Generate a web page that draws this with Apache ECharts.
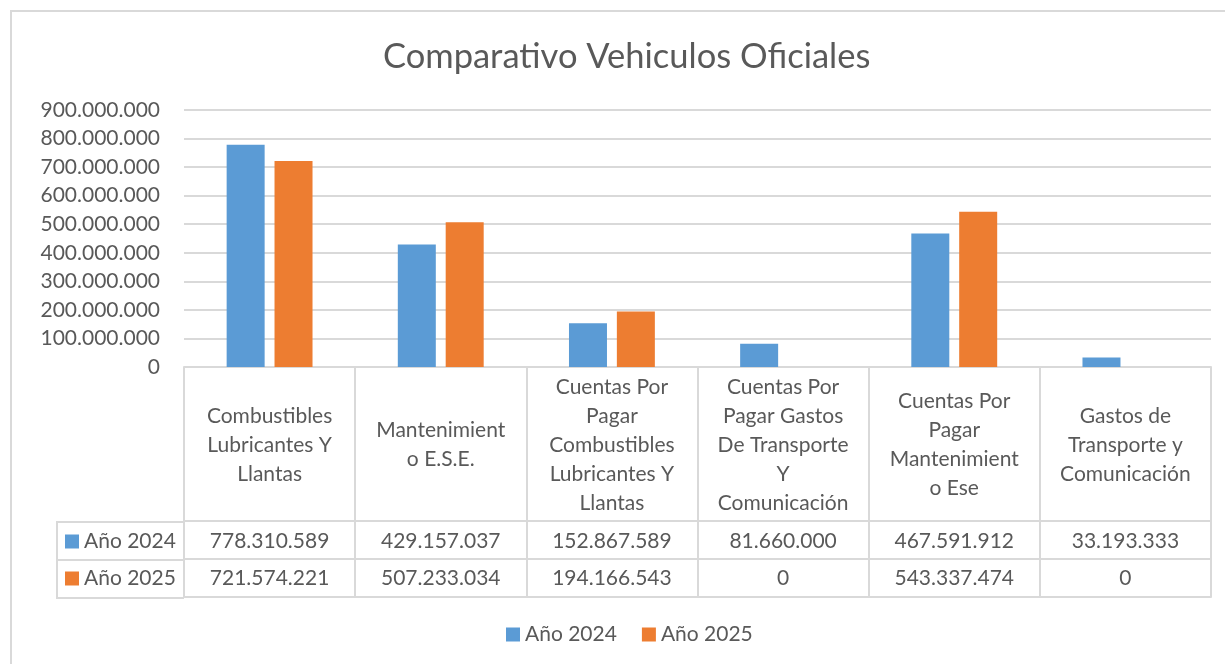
<!DOCTYPE html>
<html>
<head>
<meta charset="utf-8">
<script src="https://cdn.jsdelivr.net/npm/echarts@6/dist/echarts.min.js"></script>
<style>
html,body{margin:0;padding:0;background:#fff;}
#chart{width:1225px;height:664px;}
</style>
</head>
<body>
<div id="chart"></div>
<script>
const chartTitle = 'Comparativo Vehiculos Oficiales';
const categories = [
  'Combustibles\nLubricantes Y\nLlantas',
  'Mantenimient\no E.S.E.',
  'Cuentas Por\nPagar\nCombustibles\nLubricantes Y\nLlantas',
  'Cuentas Por\nPagar Gastos\nDe Transporte\nY\nComunicación',
  'Cuentas Por\nPagar\nMantenimient\no Ese',
  'Gastos de\nTransporte y\nComunicación'
];
const seriesNames = ['Año 2024', 'Año 2025'];
const values2024 = [778310589, 429157037, 152867589, 81660000, 467591912, 33193333];
const values2025 = [721574221, 507233034, 194166543, 0, 543337474, 0];
const yMin = 0, yMax = 900000000, yInterval = 100000000;

const FONT = 'Lato';
const TXT = '#595959';
const LINE = '#d9d9d9';
const fmt = v => String(v).replace(/\B(?=(\d{3})+(?!\d))/g, '.');

const chart = echarts.init(document.getElementById('chart'));
chart.setOption({
  animation: false,
  color: ['#5B9BD5', '#ED7D31'],
  textStyle: { fontFamily: FONT, color: TXT },
  title: {
    text: chartTitle, left: 378, top: 34,
    textStyle: { fontFamily: FONT, fontSize: 34.5, fontWeight: 'normal', color: TXT }
  },
  legend: [
    {
      data: seriesNames, left: 501, top: 619, itemWidth: 14, itemHeight: 14, itemGap: 25,
      icon: 'rect', textStyle: { fontFamily: FONT, fontSize: 21, color: TXT }
    },
    {
      data: seriesNames, orient: 'vertical', left: 60, top: 526, itemWidth: 14, itemHeight: 14, itemGap: 16,
      icon: 'rect', selectedMode: false, textStyle: { fontFamily: FONT, fontSize: 21, color: TXT }
    }
  ],
  grid: { left: 184, right: 14, top: 110, bottom: 297, containLabel: false },
  xAxis: [
    {
      type: 'category', data: categories, position: 'bottom',
      axisLine: { show: true, lineStyle: { color: LINE, width: 2 } },
      axisTick: { show: true, interval: 0, length: 230, lineStyle: { color: LINE, width: 2 } },
      axisLabel: { interval: 0, margin: 78, verticalAlign: 'middle', lineHeight: 29, fontSize: 21, color: TXT, fontFamily: FONT }
    },
    {
      type: 'category', data: categories, position: 'bottom', offset: 154,
      axisLine: { show: true, lineStyle: { color: LINE, width: 2 } },
      axisTick: { show: false },
      axisLabel: { interval: 0, margin: 20, verticalAlign: 'middle', fontSize: 21, color: TXT, fontFamily: FONT,
        formatter: (v, i) => fmt(values2024[i]) }
    },
    {
      type: 'category', data: categories, position: 'bottom', offset: 192,
      axisLine: { show: true, lineStyle: { color: LINE, width: 2 } },
      axisTick: { show: false },
      axisLabel: { interval: 0, margin: 19, verticalAlign: 'middle', fontSize: 21, color: TXT, fontFamily: FONT,
        formatter: (v, i) => fmt(values2025[i]) }
    },
    {
      type: 'category', data: categories, position: 'bottom', offset: 230,
      axisLine: { show: true, lineStyle: { color: LINE, width: 2 } },
      axisTick: { show: false }, axisLabel: { show: false }
    }
  ],
  yAxis: {
    type: 'value', min: yMin, max: yMax, interval: yInterval,
    axisLine: { show: false }, axisTick: { show: false },
    splitLine: { lineStyle: { color: LINE, width: 2 } },
    axisLabel: { margin: 24, fontSize: 21, color: TXT, fontFamily: FONT, formatter: v => fmt(v) }
  },
  graphic: [
    { type: 'rect', silent: true, z: -1, shape: { x: 11, y: 11, width: 1400, height: 1000 },
      style: { fill: 'none', stroke: LINE, lineWidth: 2 } },
    { type: 'polyline', silent: true, shape: { points: [[184, 522], [57, 522], [57, 598], [184, 598]] },
      style: { fill: 'none', stroke: LINE, lineWidth: 2 } },
    { type: 'line', silent: true, shape: { x1: 57, y1: 560, x2: 184, y2: 560 },
      style: { stroke: LINE, lineWidth: 2 } }
  ],
  series: [
    { name: seriesNames[0], type: 'bar', data: values2024, barWidth: 38, barGap: '26%' },
    { name: seriesNames[1], type: 'bar', data: values2025, barWidth: 38, barGap: '26%' }
  ]
});
</script>
</body>
</html>
